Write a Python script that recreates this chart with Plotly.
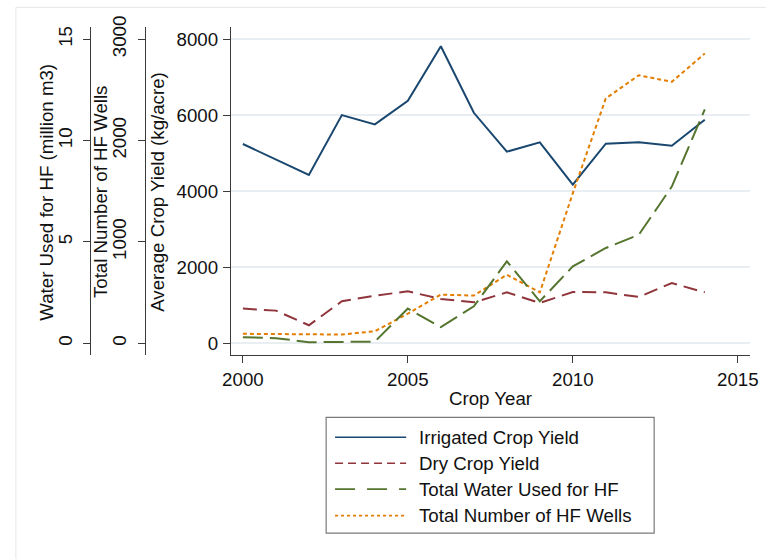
import plotly.graph_objects as go

# Crop years and series
years = list(range(2000, 2015))
irrigated_yield = [5243, 4841, 4429, 6004, 5759, 6380, 7816, 6065, 5041, 5287, 4175, 5251, 5287, 5198, 5881]
dry_yield = [911, 858, 473, 1103, 1252, 1365, 1165, 1076, 1339, 1060, 1348, 1339, 1217, 1585, 1339]
water_hf = [0.30, 0.25, 0.05, 0.06, 0.08, 1.71, 0.79, 1.82, 4.04, 2.07, 3.79, 4.70, 5.35, 7.73, 11.54]
hf_wells = [93, 93, 86, 86, 118, 292, 480, 470, 676, 502, 1481, 2416, 2645, 2580, 2859]

series_names = ["Irrigated Crop Yield", "Dry Crop Yield",
                "Total Water Used for HF", "Total Number of HF Wells"]
axis_titles = ["Water Used for HF (million m3)", "Total Number of HF Wells",
               "Average Crop Yield (kg/acre)"]

x_ticks = [2000, 2005, 2010, 2015]
yield_ticks = [0, 2000, 4000, 6000, 8000]
wells_ticks = [0, 1000, 2000, 3000]
water_ticks = [0, 5, 10, 15]

NAVY = "#1a476f"
MAROON = "#90353b"
GREEN = "#55752f"
ORANGE = "#e37e00"
AXIS = "#3a3a3a"
TEXT = "#111111"
FONT = "Liberation Sans"
FS = 18.7

W, H = 766, 560
plot_left, plot_right = 224.7, 750.0
plot_top, plot_bottom = 26.7, 355.5

# shared vertical scale: all three left axes span the same pixels
y_lo, y_hi = -310.0, 8323.0
wells_scale = 3000 / 8000
water_scale = 15 / 8000

styles = [
    dict(color=NAVY, width=2),
    dict(color=MAROON, width=2, dash="14px,7px"),
    dict(color=GREEN, width=2, dash="20px,7px"),
    dict(color=ORANGE, width=2, dash="4px,3px"),
]
legend_dash = [None, "8px,5px", "20px,12px", "3px,3px"]

fig = go.Figure()
fig.add_trace(go.Scatter(x=years, y=irrigated_yield, name=series_names[0],
                         mode="lines", line=styles[0]))
fig.add_trace(go.Scatter(x=years, y=dry_yield, name=series_names[1],
                         mode="lines", line=styles[1]))
fig.add_trace(go.Scatter(x=years, y=water_hf, name=series_names[2], yaxis="y3",
                         mode="lines", line=styles[2]))
fig.add_trace(go.Scatter(x=years, y=hf_wells, name=series_names[3], yaxis="y2",
                         mode="lines", line=styles[3]))

paper_w = plot_right  # margin.l = 0
def px_x(px):
    return px / paper_w

def px_y(py):
    return (plot_bottom - py) / (plot_bottom - plot_top)

tickfont = dict(family=FONT, size=FS, color=TEXT)
titlefont = dict(family=FONT, size=FS, color=TEXT)

common_y = dict(showline=True, linecolor=AXIS, linewidth=1.2, ticks="outside",
                ticklen=7, tickcolor=AXIS, tickwidth=1.2, zeroline=False,
                tickfont=tickfont)

fig.update_layout(
    width=W, height=H,
    margin=dict(l=0, r=W - plot_right, t=plot_top, b=H - plot_bottom),
    paper_bgcolor="white", plot_bgcolor="white",
    font=dict(family=FONT, size=FS, color=TEXT),
    showlegend=False,
    xaxis=dict(domain=[px_x(plot_left), 1], range=[1999.64, 2015.37],
               tickvals=x_ticks, showgrid=False, showline=True, linecolor=AXIS,
               linewidth=1.2, ticks="outside", ticklen=7, tickcolor=AXIS, tickwidth=1.2,
               zeroline=False, tickfont=tickfont,
               title=dict(text="Crop Year", font=titlefont, standoff=3)),
    yaxis=dict(range=[y_lo, y_hi], tickvals=yield_ticks, showgrid=True,
               gridcolor="#e8eef2", gridwidth=1.5, tickangle=0, ticklabelstandoff=1,
               **common_y),
    yaxis2=dict(range=[y_lo * wells_scale, y_hi * wells_scale], tickvals=wells_ticks,
                overlaying="y", anchor="free", position=px_x(137.7), side="left",
                showgrid=False, tickangle=-90, ticklabelstandoff=4, **common_y),
    yaxis3=dict(range=[y_lo * water_scale, y_hi * water_scale], tickvals=water_ticks,
                overlaying="y", anchor="free", position=px_x(81.7), side="left",
                showgrid=False, tickangle=-90, ticklabelstandoff=3, **common_y),
)

# rotated titles for the three stacked left axes
for title, cx in zip(axis_titles, [38.3, 93.3, 150.7]):
    fig.add_annotation(text=title, xref="paper", yref="paper",
                       x=px_x(cx), y=px_y(192), xanchor="center", yanchor="middle",
                       textangle=-90, showarrow=False, borderpad=0, font=titlefont)

# legend box with line samples and labels
lg_left, lg_right, lg_top, lg_bottom = 321, 653, 418, 534
fig.add_shape(type="rect", xref="paper", yref="paper",
              x0=px_x(lg_left), x1=px_x(lg_right), y0=px_y(lg_top), y1=px_y(lg_bottom),
              line=dict(color="#7a7a7a", width=1.2), fillcolor="white")
row_y = [438, 464, 490, 516.5]
for name, st, dash, ry in zip(series_names, styles, legend_dash, row_y):
    line = dict(color=st["color"], width=1.6)
    if dash:
        line["dash"] = dash
    fig.add_shape(type="line", xref="paper", yref="paper",
                  x0=px_x(330), x1=px_x(402), y0=px_y(ry), y1=px_y(ry), line=line)
    fig.add_annotation(text=name, xref="paper", yref="paper",
                       x=px_x(414), y=px_y(ry), xanchor="left", yanchor="middle",
                       showarrow=False, borderpad=0, font=titlefont)

# faint outer frame along the top and left edges
fig.add_shape(type="line", xref="paper", yref="paper",
              x0=px_x(7), x1=px_x(W), y0=px_y(7), y1=px_y(7),
              line=dict(color="#e6e6e6", width=1))
fig.add_shape(type="line", xref="paper", yref="paper",
              x0=px_x(7), x1=px_x(7), y0=px_y(7), y1=px_y(H),
              line=dict(color="#e6e6e6", width=1))

fig.write_html("out.html")
